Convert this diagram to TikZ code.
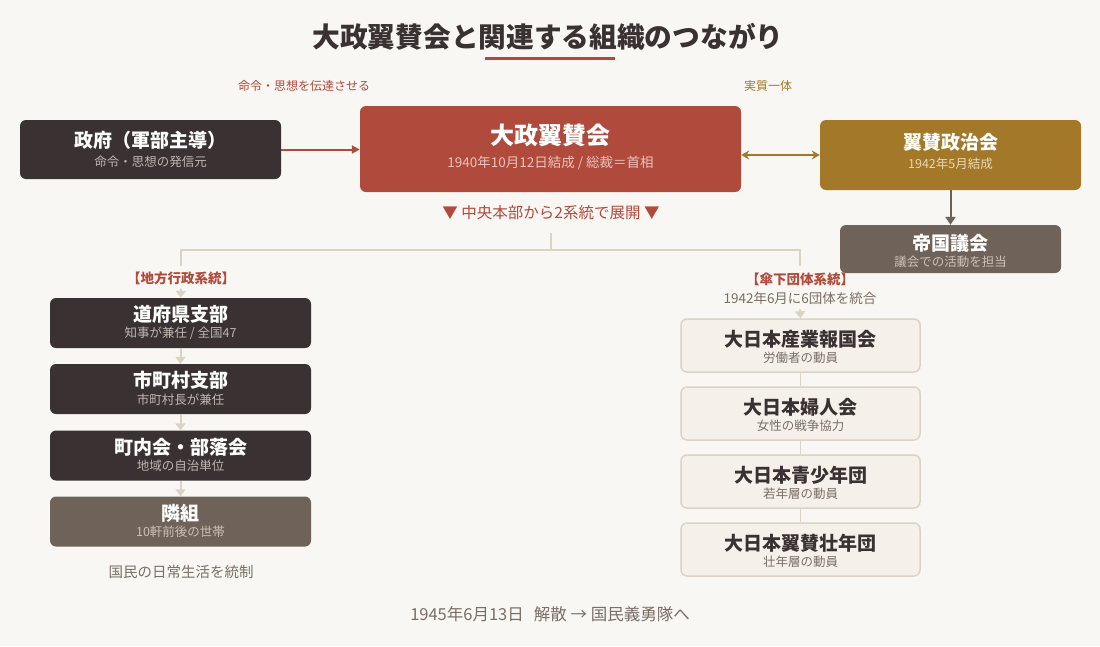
\documentclass[tikz,border=0pt]{standalone}
\usepackage{fontspec}
\setmainfont{Noto Sans CJK JP}
\usetikzlibrary{arrows.meta}
\definecolor{paper}{HTML}{F9F7F3}
\definecolor{ink}{HTML}{3A3132}
\definecolor{brick}{HTML}{B04A3C}
\definecolor{ochre}{HTML}{A37828}
\definecolor{taupe}{HTML}{6F6259}
\definecolor{rule}{HTML}{DAD3C6}
\definecolor{card}{HTML}{F5F1EA}
\definecolor{muted}{HTML}{7A6E66}
\definecolor{inksub}{HTML}{BFB6AF}
\definecolor{bricksub}{HTML}{EBC4BC}
\definecolor{ochresub}{HTML}{EAD8B3}
\definecolor{taupesub}{HTML}{CBC1B8}
\tikzset{
  box/.style={rounded corners=6pt, inner sep=0pt, minimum width=#1},
  ttl/.style={inner sep=0pt, font=\fontsize{19}{21}\selectfont\bfseries, text=white},
  sub/.style={inner sep=0pt, font=\fontsize{12.5}{14}\selectfont},
  tag/.style={inner sep=0pt, font=\fontsize{13.5}{15}\selectfont\bfseries, text=brick},
  link/.style={draw=rule, line width=2pt},
  flow/.style={draw=rule, line width=2pt, -{Triangle[width=10pt,length=7pt]}}
}
\begin{document}
\begin{tikzpicture}[x=1pt,y=-1pt]
\fill[paper] (0,0) rectangle (1100,646);
\useasboundingbox (0,0) rectangle (1100,646);

\node[inner sep=0pt, font=\fontsize{27.7}{30}\selectfont\bfseries, text=ink] (title) at (548,37) {大政翼賛会と関連する組織のつながり};
\draw[brick, line width=3pt] (485,58) -- (615,58);

\node[sub, font=\fontsize{12}{14}\selectfont, text=brick] (order) at (304,86) {命令・思想を伝達させる};
\node[sub, font=\fontsize{12}{14}\selectfont, text=ochre] (unity) at (768,86) {実質一体};

\node[box=261pt, fill=ink, minimum height=59pt] (gov) at (150.5,149.5) {};
\node[ttl] at ([yshift=9.5]gov.center) {政府（軍部主導）};
\node[sub, text=inksub] at ([yshift=-12.5]gov.center) {命令・思想の発信元};

\node[box=381pt, fill=brick, minimum height=86pt] (taisei) at (550.5,149) {};
\node[ttl, font=\fontsize{24}{26}\selectfont\bfseries] at ([yshift=14]taisei.center) {大政翼賛会};
\node[sub, font=\fontsize{13.5}{15}\selectfont, text=bricksub] at ([yshift=-14]taisei.center) {1940年10月12日結成 / 総裁＝首相};

\node[box=261pt, fill=ochre, minimum height=70pt] (seiji) at (950.5,155) {};
\node[ttl] at ([yshift=13]seiji.center) {翼賛政治会};
\node[sub, text=ochresub] at ([yshift=-9]seiji.center) {1942年5月結成};

\node[box=221pt, fill=taupe, minimum height=48pt] (gikai) at (950.5,249) {};
\node[ttl] at ([yshift=6]gikai.center) {帝国議会};
\node[sub, text=taupesub] at ([yshift=-13]gikai.center) {議会での活動を担当};

\draw[brick, line width=2pt, -{Triangle[width=8pt,length=8pt]}] (gov.east) -- (gov.east -| taisei.west);
\draw[ochre, line width=2.5pt, {Stealth[width=9pt,length=8pt]}-{Stealth[width=9pt,length=8pt]}] (seiji.west -| taisei.east) -- (seiji.west);
\draw[taupe, line width=2pt, -{Triangle[width=10pt,length=8pt]}] (seiji.south) -- (gikai.north);

\node[inner sep=0pt, font=\fontsize{15.5}{18}\selectfont, text=brick] (split) at (551,213) {▼ 中央本部から2系統で展開 ▼};
\coordinate (stem) at (551,233);
\coordinate (fork) at (551,250);
\coordinate (ltop) at (181,266);
\coordinate (rtop) at (800,266);
\draw[link] (stem) -- (fork);
\draw[link] (ltop) |- (fork) -| (rtop);

\node[tag] (lhead) at (181,278) {【地方行政系統】};

\node[box=261pt, fill=ink, minimum height=50pt] (pref) at (180.5,323) {};
\node[ttl] at ([yshift=8.5]pref.center) {道府県支部};
\node[sub, text=inksub] at ([yshift=-10.5]pref.center) {知事が兼任 / 全国47};

\node[box=261pt, fill=ink, minimum height=50pt] (city) at (180.5,389) {};
\node[ttl] at ([yshift=8.5]city.center) {市町村支部};
\node[sub, text=inksub] at ([yshift=-10.5]city.center) {市町村長が兼任};

\node[box=261pt, fill=ink, minimum height=50pt] (town) at (180.5,455.5) {};
\node[ttl] at ([yshift=8.5]town.center) {町内会・部落会};
\node[sub, text=inksub] at ([yshift=-10.5]town.center) {地域の自治単位};

\node[box=261pt, fill=taupe, minimum height=50pt] (tonari) at (180.5,521.5) {};
\node[ttl] at ([yshift=8.5]tonari.center) {隣組};
\node[sub, text=taupesub] at ([yshift=-10.5]tonari.center) {10軒前後の世帯};

\draw[flow] ([yshift=-4]lhead.south) -- (pref.north);
\draw[flow] (pref.south) -- (city.north);
\draw[flow] (city.south) -- (town.north);
\draw[flow] (town.south) -- (tonari.north);

\node[sub, font=\fontsize{14.5}{16}\selectfont, text=muted] (daily) at (181,572) {国民の日常生活を統制};

\node[tag] (rhead) at (800,279) {【傘下団体系統】};
\node[sub, font=\fontsize{13.5}{15}\selectfont, text=muted] (rnote) at (800,298) {1942年6月に6団体を統合};

\node[box=239pt, fill=card, draw=rule, line width=1.5pt, minimum height=53pt] (sangyo) at (800.5,345.5) {};
\node[ttl, text=ink] at ([yshift=6.5]sangyo.center) {大日本産業報国会};
\node[sub, text=muted] at ([yshift=-12.5]sangyo.center) {労働者の動員};

\node[box=239pt, fill=card, draw=rule, line width=1.5pt, minimum height=53pt] (fujin) at (800.5,413.5) {};
\node[ttl, text=ink] at ([yshift=6.5]fujin.center) {大日本婦人会};
\node[sub, text=muted] at ([yshift=-12.5]fujin.center) {女性の戦争協力};

\node[box=239pt, fill=card, draw=rule, line width=1.5pt, minimum height=53pt] (seishonen) at (800.5,481.5) {};
\node[ttl, text=ink] at ([yshift=6.5]seishonen.center) {大日本青少年団};
\node[sub, text=muted] at ([yshift=-12.5]seishonen.center) {若年層の動員};

\node[box=239pt, fill=card, draw=rule, line width=1.5pt, minimum height=53pt] (sonen) at (800.5,549.5) {};
\node[ttl, text=ink] at ([yshift=6.5]sonen.center) {大日本翼賛壮年団};
\node[sub, text=muted] at ([yshift=-12.5]sonen.center) {壮年層の動員};

\draw[flow] ([yshift=-5]rnote.south) -- (sangyo.north);
\draw[rule, line width=1pt] (sangyo.south) -- (fujin.north);
\draw[rule, line width=1pt] (fujin.south) -- (seishonen.north);
\draw[rule, line width=1pt] (seishonen.south) -- (sonen.north);

\node[inner sep=0pt, font=\fontsize{16.5}{18}\selectfont, text=muted] (end) at (550,614) {1945年6月13日\hspace{10pt}解散 → 国民義勇隊へ};
\end{tikzpicture}
\end{document}
